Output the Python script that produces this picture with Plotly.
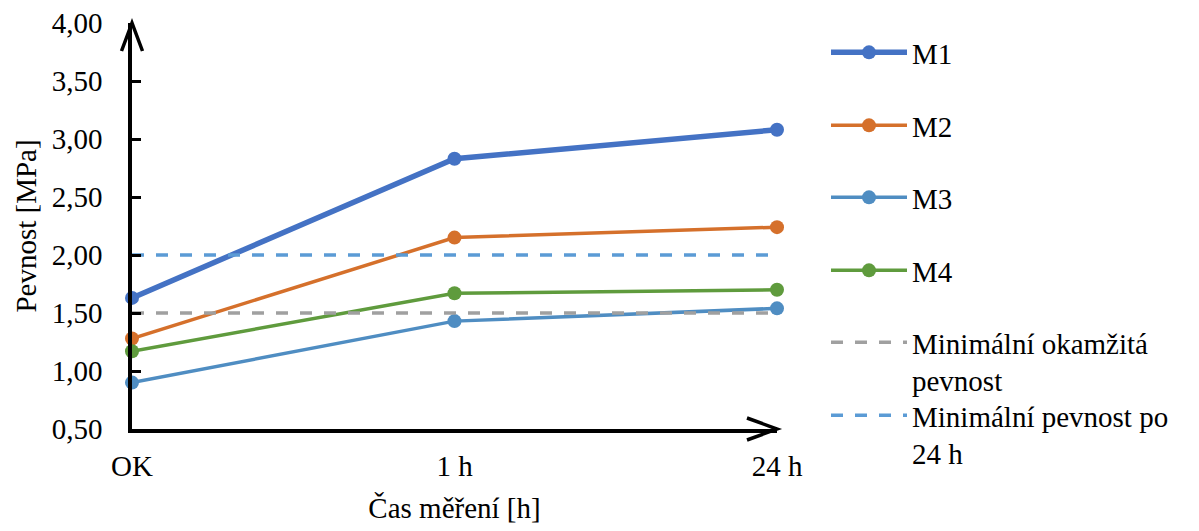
import plotly.graph_objects as go

# Measurement times (category axis)
times = ["OK", "1 h", "24 h"]

# Strength of the mixtures [MPa]
m1 = [1.63, 2.83, 3.08]
m2 = [1.28, 2.15, 2.24]
m3 = [0.90, 1.43, 1.54]
m4 = [1.17, 1.67, 1.70]

# Required limits [MPa]
min_instant = [1.50, 1.50, 1.50]
min_24h = [2.00, 2.00, 2.00]

y_ticks = [0.5, 1.0, 1.5, 2.0, 2.5, 3.0, 3.5, 4.0]
y_tick_text = ["0,50", "1,00", "1,50", "2,00", "2,50", "3,00", "3,50", "4,00"]

FONT = "Times New Roman, Liberation Serif, Times, serif"
FS = 29
W, H = 1199, 531
L, R, T, B = 132, 422, 23, 102

fig = go.Figure()

series = [
    ("M1", m1, "#4472C4", 5.5, "solid", True),
    ("M2", m2, "#D5702B", 3.5, "solid", True),
    ("M3", m3, "#4F8DC2", 3.5, "solid", True),
    ("M4", m4, "#5F9B3D", 3.5, "solid", True),
    ("Minimální okamžitá<br>pevnost", min_instant, "#A0A0A0", 3.5, "dash", False),
    ("Minimální pevnost po<br>24 h", min_24h, "#5B9BD5", 3.5, "dash", False),
]

# legend entry centres, px from the top of the page
legend_rows = [54, 127, 199, 272, 344, 417]

for i, (name, vals, color, width, dash, markers) in enumerate(series):
    lg = "legend" if i == 0 else f"legend{i + 1}"
    fig.add_trace(go.Scatter(
        x=times, y=vals, name=name,
        mode="lines+markers" if markers else "lines",
        line=dict(color=color, width=width, dash="12px,12px" if dash == "dash" else "solid"),
        marker=dict(size=14, color=color),
        cliponaxis=False,
        legend=lg,
    ))

legends = {}
for i, row in enumerate(legend_rows):
    key = "legend" if i == 0 else f"legend{i + 1}"
    legends[key] = dict(
        xref="container", yref="container",
        x=826 / W, y=1 - (row - 27) / H,
        xanchor="left", yanchor="top",
        font=dict(family=FONT, size=FS, color="black"),
        itemwidth=76, valign="top",
        bgcolor="rgba(0,0,0,0)",
    )

# arrowheads at the ends of both axes (paper coordinates)
pw, ph = W - L - R, H - T - B
ax_w = 3.5
arrow_shapes = []
wx = 10.5 / pw
wy = 28.0 / ph
arrow_shapes.append(dict(type="path", xref="paper", yref="paper",
                         path=f"M {-wx},{1 - wy} L 0,1 L {wx},{1 - wy}",
                         line=dict(color="black", width=ax_w)))
hx = 30.0 / pw
hy = 11.0 / ph
arrow_shapes.append(dict(type="path", xref="paper", yref="paper",
                         path=f"M {1 - hx},{hy} L 1,0 L {1 - hx},{-hy}",
                         line=dict(color="black", width=ax_w)))

fig.update_layout(
    width=W, height=H,
    margin=dict(l=L, r=R, t=T, b=B, autoexpand=False),
    paper_bgcolor="white", plot_bgcolor="white",
    font=dict(family=FONT, size=FS, color="black"),
    showlegend=True,
    shapes=arrow_shapes,
    **legends,
)

fig.update_xaxes(
    type="category", range=[0, 2],
    showline=True, linecolor="black", linewidth=ax_w,
    ticks="", showgrid=False, zeroline=False,
    tickfont=dict(family=FONT, size=FS, color="black"),
    ticklabelstandoff=8,
    title=dict(text="Čas měření [h]", font=dict(family=FONT, size=FS, color="black"), standoff=18),
)
fig.update_yaxes(
    range=[0.5, 4.0],
    tickvals=y_ticks, ticktext=y_tick_text,
    showline=True, linecolor="black", linewidth=ax_w,
    ticks="inside", ticklen=9, tickwidth=3, tickcolor="black",
    showgrid=False, zeroline=False,
    tickfont=dict(family=FONT, size=FS, color="black"),
    ticklabelstandoff=20,
    title=dict(text="Pevnost [MPa]", font=dict(family=FONT, size=FS, color="black"), standoff=8),
)

fig.write_html("out.html")
